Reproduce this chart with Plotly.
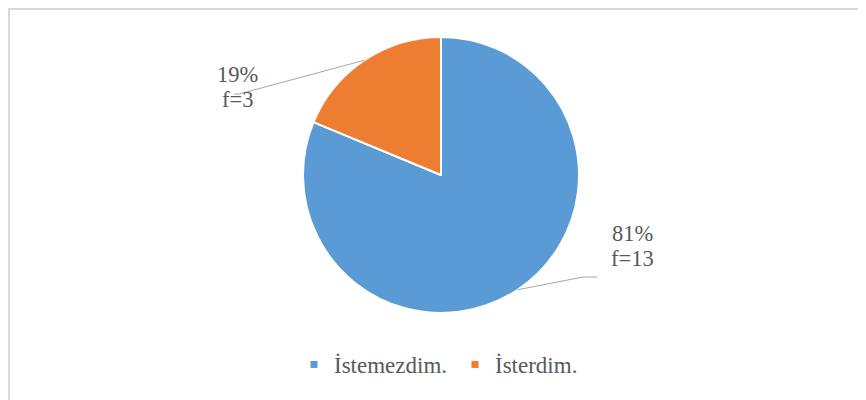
import math
import plotly.graph_objects as go

labels = ["İstemezdim.", "İsterdim."]
values = [13, 3]
colors = ["#5B9BD5", "#ED7D31"]

W, H = 866, 400
OFF = 8  # page body margin offset (screen px -> figure px)
FONT = "Liberation Serif"


def px(x):
    return (x - OFF) / W


def py(y):
    return 1 - (y - OFF) / H


cx, cy, R = 441, 175, 138  # pie centre / radius in screen pixels

fig = go.Figure()
fig.add_trace(go.Pie(
    labels=labels, values=values, sort=False, direction="clockwise", rotation=0,
    marker=dict(colors=colors, line=dict(color="white", width=2)),
    textinfo="none", hoverinfo="label+value+percent", showlegend=False,
    domain=dict(x=[px(cx - 300), px(cx + 300)], y=[py(cy + R), py(cy - R)]),
))

# legend entries (small square markers)
for lab, col in zip(labels, colors):
    fig.add_trace(go.Scatter(x=[None], y=[None], mode="markers", name=lab,
                             marker=dict(symbol="square", size=7, color=col)))

total = sum(values)
# text centre x, first-line y ; elbow end x, elbow x, elbow y
label_pos = [(632.5, 234, 597, 583, 277), (237, 74.5, 234, 239, 94)]
LINE = 25
shapes = [dict(type="rect", xref="paper", yref="paper", x0=1 / W, y0=-0.05, x1=1.05, y1=1 - 1 / H,
               line=dict(color="#D9D9D9", width=2), fillcolor="rgba(0,0,0,0)", layer="below")]
annotations = []
cum = 0
for v, (tx, ty, ex, bx, by) in zip(values, label_pos):
    mid = (cum + v / 2) / total * 2 * math.pi
    cum += v
    sx = cx + R * math.sin(mid)
    sy = cy - R * math.cos(mid)
    pct = round(v / total * 100)
    for k, line_text in enumerate([f"{pct}%", f"f={v}"]):
        annotations.append(dict(x=px(tx), y=py(ty + k * LINE), xref="paper", yref="paper",
                                text=line_text, showarrow=False, align="center",
                                xanchor="center", yanchor="middle",
                                font=dict(family=FONT, size=22.5, color="#595959")))
    shapes.append(dict(type="path", xref="paper", yref="paper",
                       path=f"M{px(sx)},{py(sy)} L{px(bx)},{py(by)} L{px(ex)},{py(by)}",
                       line=dict(color="#A6A6A6", width=1)))

fig.update_layout(
    width=W, height=H, margin=dict(l=0, r=0, t=0, b=0),
    paper_bgcolor="white", plot_bgcolor="white",
    xaxis=dict(visible=False), yaxis=dict(visible=False),
    shapes=shapes, annotations=annotations,
    legend=dict(orientation="h", x=px(294), xanchor="left", y=py(364.5), yanchor="middle",
                entrywidth=116, entrywidthmode="pixels",
                font=dict(family=FONT, size=23, color="#595959"),
                itemclick=False, itemdoubleclick=False),
)
fig.write_html("out.html")
